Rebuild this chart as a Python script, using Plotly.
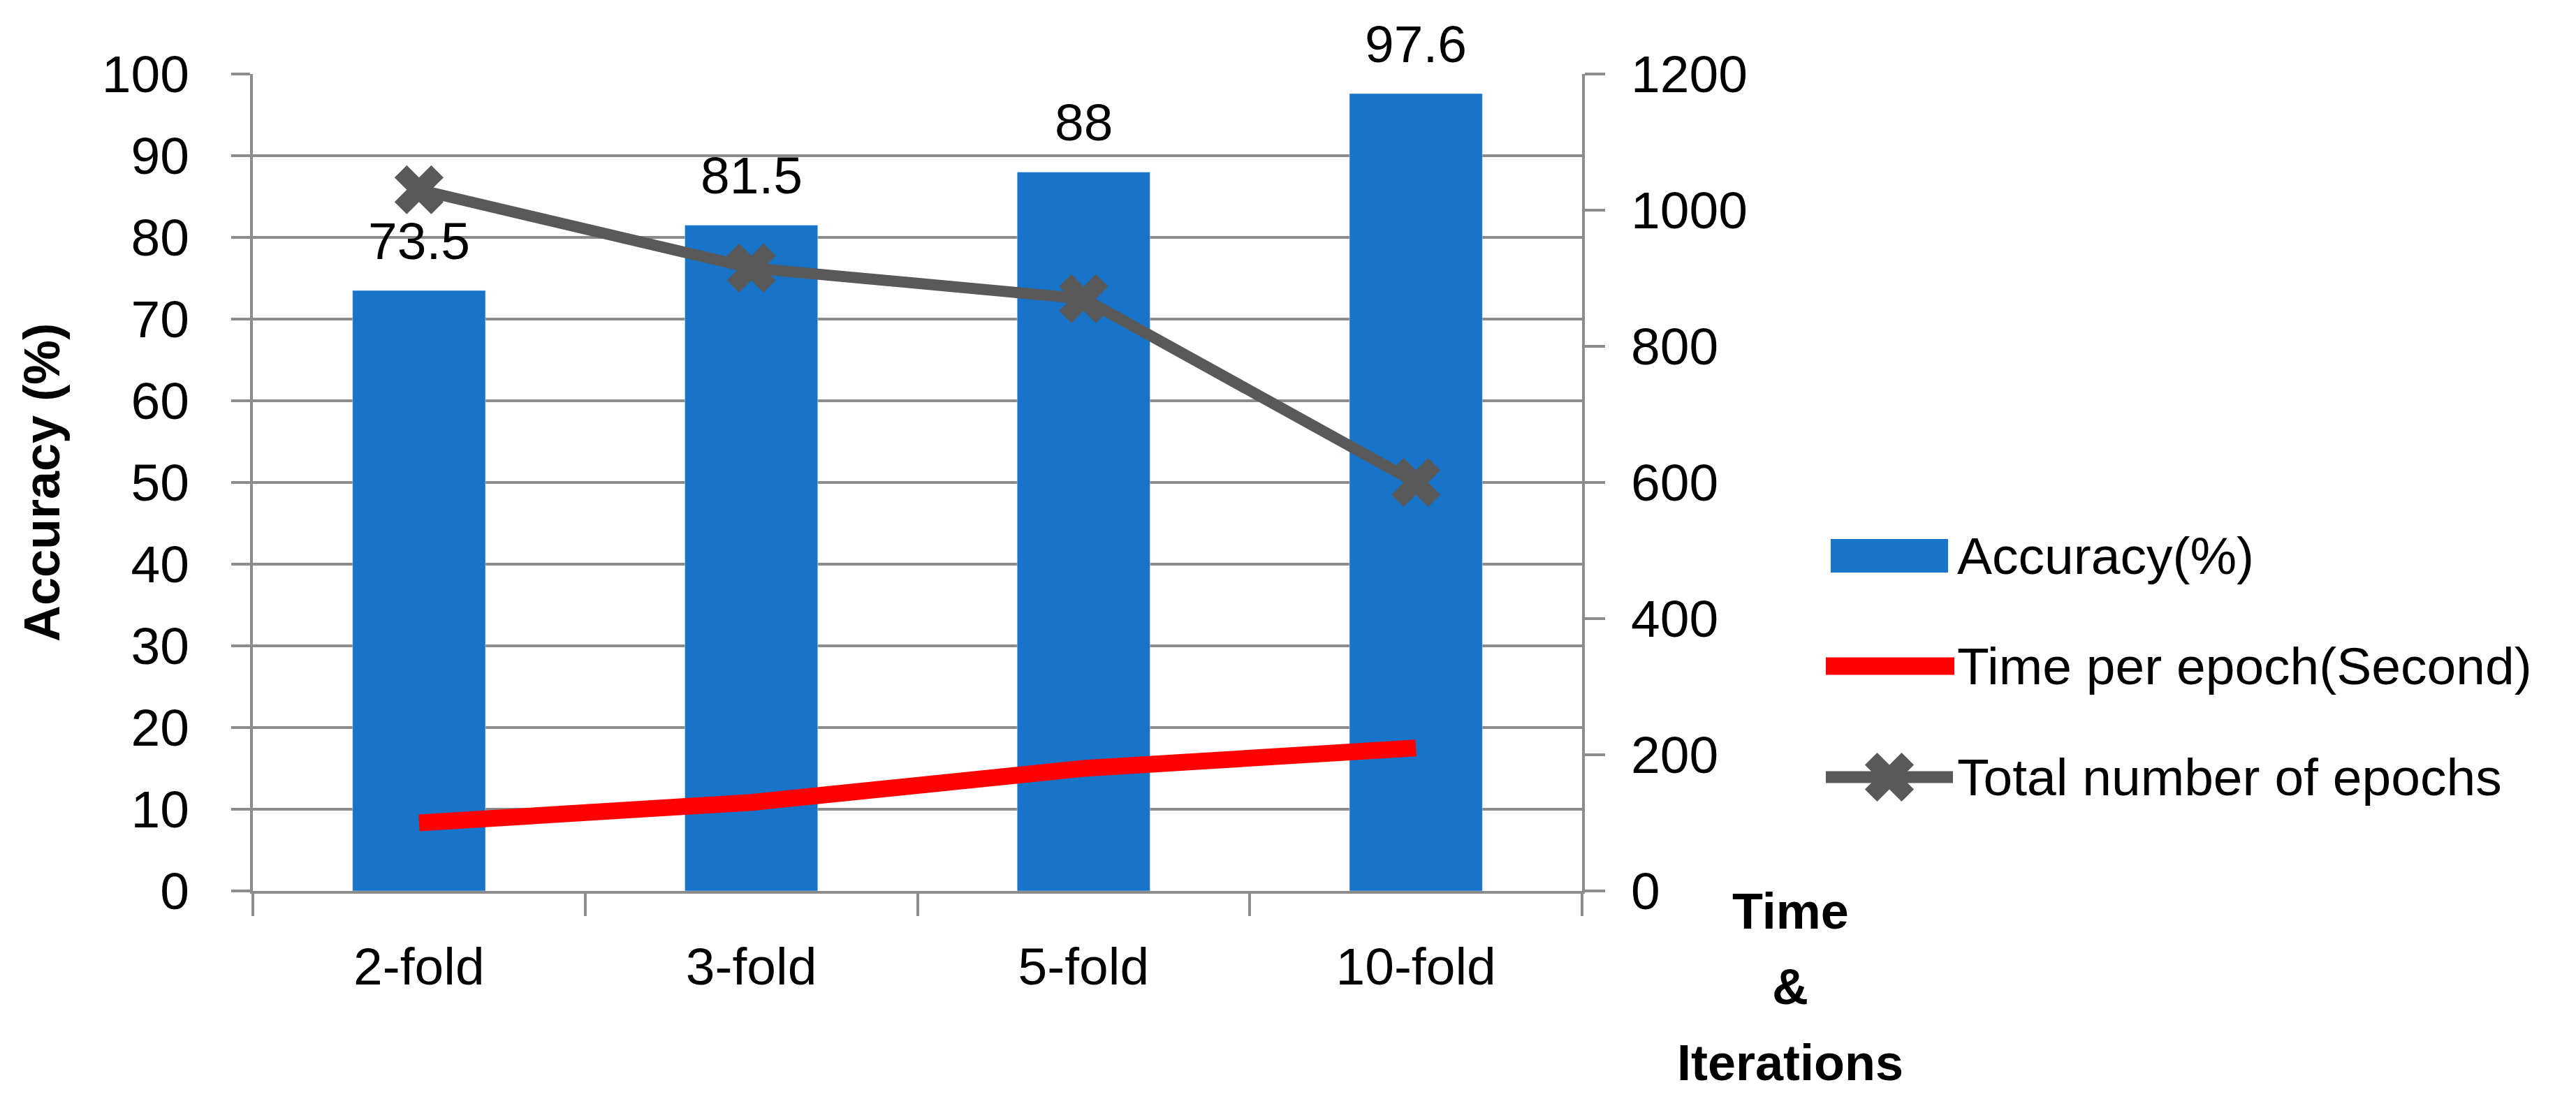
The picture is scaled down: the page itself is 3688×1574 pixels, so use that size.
import plotly.graph_objects as go

folds = ['2-fold', '3-fold', '5-fold', '10-fold']
accuracy = [73.5, 81.5, 88, 97.6]
time_per_epoch = [100, 130, 180, 210]
total_epochs = [1030, 915, 870, 600]

legend_names = ['Accuracy(%)', 'Time per epoch(Second)', 'Total number of epochs']

blue = '#1874C8'
red = '#FF0000'
dark = '#595959'
grid = '#8C8C8C'
font_family = 'Liberation Sans, Arial, sans-serif'

W, H = 3688, 1574
L, R, T, B = 354, 1431, 98, 306


def px_x(p):
    # page pixel -> paper x
    return (p - L) / (W - L - R)


def px_y(p):
    # page pixel -> paper y
    return (H - B - p) / (H - T - B)


def x_path(r):
    # same outline as plotly's 'x' marker, in pixels
    rx = r * 0.8 / 2 ** 0.5
    pts = [(0, 1), (1, 2), (2, 1), (1, 0), (2, -1), (1, -2), (0, -1),
           (-1, -2), (-2, -1), (-1, 0), (-2, 1), (-1, 2)]
    return 'M' + 'L'.join('%.1f,%.1f' % (a * rx, b * rx) for a, b in pts) + 'Z'


fig = go.Figure()

fig.add_trace(go.Bar(x=folds, y=accuracy, marker_color=blue, name=legend_names[0]))
fig.add_trace(go.Scatter(
    x=folds, y=time_per_epoch, mode='lines', name=legend_names[1],
    line=dict(color=red, width=24), yaxis='y2',
))
fig.add_trace(go.Scatter(
    x=folds, y=total_epochs, mode='lines+markers', name=legend_names[2],
    line=dict(color=dark, width=16), marker=dict(symbol='x', size=62, color=dark),
    yaxis='y2', cliponaxis=False,
))

# value labels above the bars
annotations = [
    dict(x=f, y=v, text=str(v), yshift=71, showarrow=False, yanchor='middle',
         font=dict(size=75))
    for f, v in zip(folds, accuracy)
]

# right-hand legend, drawn by hand so the swatches match Excel's size
legend_y = [788, 946, 1105]
for name, yy in zip(legend_names, legend_y):
    annotations.append(dict(
        text=name, xref='paper', yref='paper', x=px_x(2792), y=px_y(yy),
        xanchor='left', yanchor='middle', showarrow=False, font=dict(size=75),
    ))

shapes = [
    dict(type='rect', xref='paper', yref='paper', x0=px_x(2613), x1=px_x(2781),
         y0=px_y(legend_y[0] - 24), y1=px_y(legend_y[0] + 24),
         fillcolor=blue, line=dict(width=0)),
    dict(type='line', xref='paper', yref='paper', x0=px_x(2606), x1=px_x(2790),
         y0=px_y(legend_y[1]), y1=px_y(legend_y[1]), line=dict(color=red, width=25)),
    dict(type='line', xref='paper', yref='paper', x0=px_x(2606), x1=px_x(2788),
         y0=px_y(legend_y[2]), y1=px_y(legend_y[2]), line=dict(color=dark, width=17)),
    dict(type='path', xref='paper', yref='paper', xsizemode='pixel', ysizemode='pixel',
         xanchor=px_x(2697), yanchor=px_y(legend_y[2]), path=x_path(31),
         fillcolor=dark, line=dict(width=0)),
]

# "Time & Iterations" caption under the right axis
for txt, yy in zip(['Time', '&', 'Iterations'], [1297, 1405, 1514]):
    annotations.append(dict(
        text='<b>%s</b>' % txt, xref='paper', yref='paper', x=px_x(2555), y=px_y(yy),
        xanchor='center', yanchor='middle', showarrow=False, font=dict(size=72),
    ))

fig.update_layout(
    width=W, height=H,
    margin=dict(l=L, r=R, t=T, b=B),
    paper_bgcolor='white', plot_bgcolor='white',
    font=dict(family=font_family, size=75, color='black'),
    bargap=0.6,
    showlegend=False,
    xaxis=dict(
        type='category', tickson='boundaries', ticks='outside', ticklen=32,
        tickwidth=4, tickcolor=grid, showline=True, linecolor=grid, linewidth=4,
        showgrid=False, ticklabelstandoff=40,
    ),
    yaxis=dict(
        range=[0, 100], dtick=10, showgrid=True, gridcolor=grid, gridwidth=4,
        ticks='outside', ticklen=27, tickwidth=4, tickcolor=grid,
        showline=True, linecolor=grid, linewidth=4, zeroline=False,
        ticklabelstandoff=45,
        title=dict(text='<b>Accuracy (%)</b>', font=dict(size=72), standoff=38),
    ),
    yaxis2=dict(
        range=[0, 1200], dtick=200, overlaying='y', side='right', showgrid=False,
        ticks='outside', ticklen=29, tickwidth=4, tickcolor=grid,
        showline=True, linecolor=grid, linewidth=4, zeroline=False,
        ticklabelstandoff=22,
    ),
    annotations=annotations,
    shapes=shapes,
)

fig.write_html('out.html')
